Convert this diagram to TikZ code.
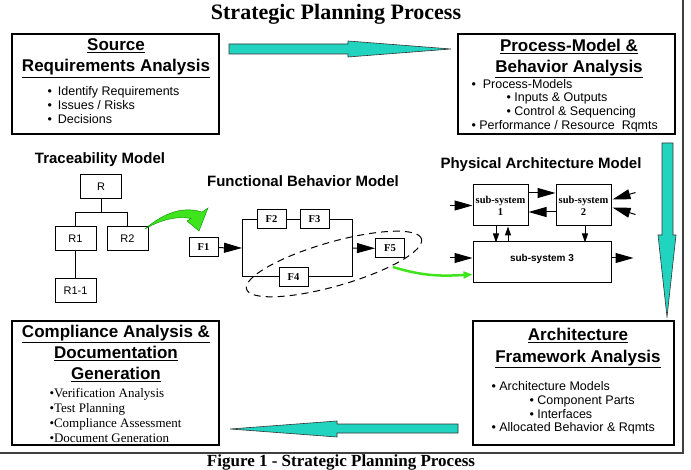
\documentclass[tikz,border=0pt]{standalone}
\usepackage{fontspec}
\setmainfont{Liberation Serif}
\setsansfont{Liberation Sans}
\usetikzlibrary{arrows.meta}
\usepackage{xcolor}
\definecolor{flowcyan}{RGB}{32,212,192}
\definecolor{leafgreen}{RGB}{64,228,28}

\tikzset{
  bigbox/.style={draw,line width=1.2pt,inner sep=0pt},
  heading/.style={font=\sffamily\bfseries\fontsize{17}{21}\selectfont,align=center,anchor=north,inner sep=0pt},
  bullets/.style={font=\sffamily\fontsize{12.5}{13.8}\selectfont,align=left,anchor=north west,inner sep=0pt},
  model/.style={font=\sffamily\bfseries\fontsize{15}{18}\selectfont},
  reqbox/.style={draw,line width=1pt,minimum width=41pt,minimum height=24pt,inner sep=0pt,font=\sffamily\fontsize{11}{13}\selectfont},
  funbox/.style={draw,line width=1pt,minimum width=29pt,minimum height=19pt,inner sep=0pt,font=\bfseries\fontsize{10.5}{12}\selectfont},
  subbox/.style={draw,line width=1pt,minimum width=55pt,minimum height=41pt,inner sep=0pt,align=center,font=\bfseries\fontsize{10.5}{12}\selectfont},
  blockarrow/.style={fill=flowcyan,draw=black!80,line width=0.6pt},
  mini/.tip={Triangle[length=9pt,width=6pt]}
}

\begin{document}
\begin{tikzpicture}[x=1pt,y=-1pt,>={Triangle[length=18pt,width=10pt]},line width=1pt]
\useasboundingbox (0,0) rectangle (691,470);

% frame and titles
\draw[line width=1.2pt,black!75] (0,453) -- (683,453) -- (683,0);
\node[font=\bfseries\fontsize{22}{26}\selectfont,anchor=base] (title) at (336,20) {Strategic Planning Process};
\node[font=\bfseries\fontsize{17}{20}\selectfont,anchor=base] (caption) at (341,466) {Figure 1 - Strategic Planning Process};

% the four analysis boxes
\node[bigbox,minimum width=207pt,minimum height=100pt] (src) at (115.5,84) {};
\node[bigbox,minimum width=217pt,minimum height=100pt] (proc) at (566.5,84) {};
\node[bigbox,minimum width=207pt,minimum height=124pt] (comp) at (115.5,383) {};
\node[bigbox,minimum width=201pt,minimum height=124pt] (arch) at (573.5,383) {};

\node[heading] (srchead) at (116,38.5) {\underline{Source}\\\underline{Requirements Analysis}};
\node[bullets] (srclist) at (47,86) {\textbullet\hspace{6pt}Identify Requirements\\\textbullet\hspace{6pt}Issues / Risks\\\textbullet\hspace{6pt}Decisions};

\node[heading] (prochead) at (569,38.5) {\underline{Process-Model \&}\\\underline{Behavior Analysis}};
\node[bullets] (proclist) at (471,78.5) {\textbullet\ \ Process-Models\\\hspace*{35pt}\textbullet\ Inputs \& Outputs\\\hspace*{35pt}\textbullet\ Control \& Sequencing\\\textbullet\ Performance / Resource\ \ Rqmts};

\node[heading] (comphead) at (116,324.5) {\underline{Compliance Analysis \&}\\\underline{Documentation}\\\underline{Generation}};
\node[bullets,font=\rmfamily\fontsize{13}{15}\selectfont] (complist) at (49,388) {\textbullet Verification Analysis\\\textbullet Test Planning\\\textbullet Compliance Assessment\\\textbullet Document Generation};

\node[heading,font=\sffamily\bfseries\fontsize{17}{22}\selectfont] (archhead) at (578,327.5) {\underline{Architecture}\\\underline{Framework Analysis}};
\node[bullets] (archlist) at (491,381) {\textbullet\ Architecture Models\\\hspace*{38pt}\textbullet\ Component Parts\\\hspace*{38pt}\textbullet\ Interfaces\\\textbullet\ Allocated Behavior \& Rqmts};

% big flow arrows
\draw[blockarrow] (229,44) -- (348,44) -- (348,41) -- (451,49) -- (348,57) -- (348,54) -- (229,54) -- cycle;
\draw[blockarrow] (662,143) -- (673,143) -- (673,235) -- (676,235) -- (667,317) -- (658,235) -- (662,235) -- cycle;
\draw[blockarrow] (458,424) -- (337,424) -- (337,421) -- (230,429) -- (337,437) -- (337,433) -- (458,433) -- cycle;

% traceability model
\node[model] (tracelbl) at (100,160) {Traceability Model};
\node[reqbox] (r) at (101,187) {R};
\node[reqbox] (r1) at (75.5,238.5) {R1};
\node[reqbox] (r2) at (127.5,238.5) {R2};
\node[reqbox] (r11) at (75.5,291) {R1-1};
\draw (r.south) -- ++(0,13) coordinate (rj);
\draw (r1.north) |- (rj) -| (r2.north);
\draw (r1) -- (r11);

% green hand-over arrows
\fill[leafgreen,draw=green!55!black,line width=0.4pt] (145,229) .. controls (160,216) and (180,205) .. (202,212)
  -- (208,208) -- (199,231) -- (187,221) -- (191,218.5) .. controls (178,216) and (162,219) .. cycle;
\coordinate (gstart) at (393,267);

% functional behavior model
\node[model] (funlbl) at (303,181) {Functional Behavior Model};
\node[funbox] (f1) at (203.5,247.5) {F1};
\node[funbox] (f2) at (271.5,219.5) {F2};
\node[funbox] (f3) at (314.5,219.5) {F3};
\node[funbox] (f4) at (293.5,277) {F4};
\node[funbox] (f5) at (390,248.5) {F5};
\coordinate (jl) at (242,248);
\coordinate (jr) at (352,248);
\draw[->] (f1) -- (jl);
\draw (f2) -- (f3);
\draw (f2.west) -| (jl |- f4.west) -- (f4.west);
\draw (f3.east) -| (jr |- f4.east) -- (f4.east);
\draw[->] (jr) -- (f5);
\draw[dashed,dash pattern=on 7pt off 5pt,rotate around={16:(334,264)}] (334,264) ellipse [x radius=91pt,y radius=22pt];

% physical architecture model
\node[model] (physlbl) at (541,165) {Physical Architecture Model};
\node[subbox] (s1) at (500.5,205.5) {sub-system\\1};
\node[subbox] (s2) at (583.5,205.5) {sub-system\\2};
\node[subbox,minimum width=138pt,font=\sffamily\bfseries\fontsize{10}{12}\selectfont] (s3) at (542,262.5) {\raisebox{9pt}{sub-system 3}};
\draw[->] ([yshift=12.5pt]s1.east) -- ([yshift=12.5pt]s2.west);
\draw[->] ([yshift=-6.5pt]s2.west) -- ([yshift=-6.5pt]s1.east);
\draw[->] ([xshift=-23pt]s1.west) -- (s1.west);
\draw[->] ([xshift=-23pt,yshift=4.5pt]s3.west) -- ([yshift=4.5pt]s3.west);
\draw[->] ([yshift=4.5pt]s3.east) -- ++(22,0);
\draw[->] ([xshift=24pt,yshift=13pt]s2.east) -- ([xshift=1pt,yshift=6pt]s2.east);
\draw[->] ([xshift=24pt,yshift=-9pt]s2.east) -- ([xshift=1pt,yshift=-2pt]s2.east);
\draw[-mini] ([xshift=-4.5pt]s1.south) -- ++(0,16);
\draw[mini-] ([xshift=7.5pt]s1.south) -- ++(0,16);
\draw[-mini] ([xshift=1.5pt]s2.south) -- ++(0,16);
\draw[leafgreen,line width=2.5pt,-{Triangle[length=9pt,width=7pt]}] (gstart) .. controls (425,277) and (445,276) .. ([yshift=-12pt]s3.west);
\end{tikzpicture}
\end{document}
